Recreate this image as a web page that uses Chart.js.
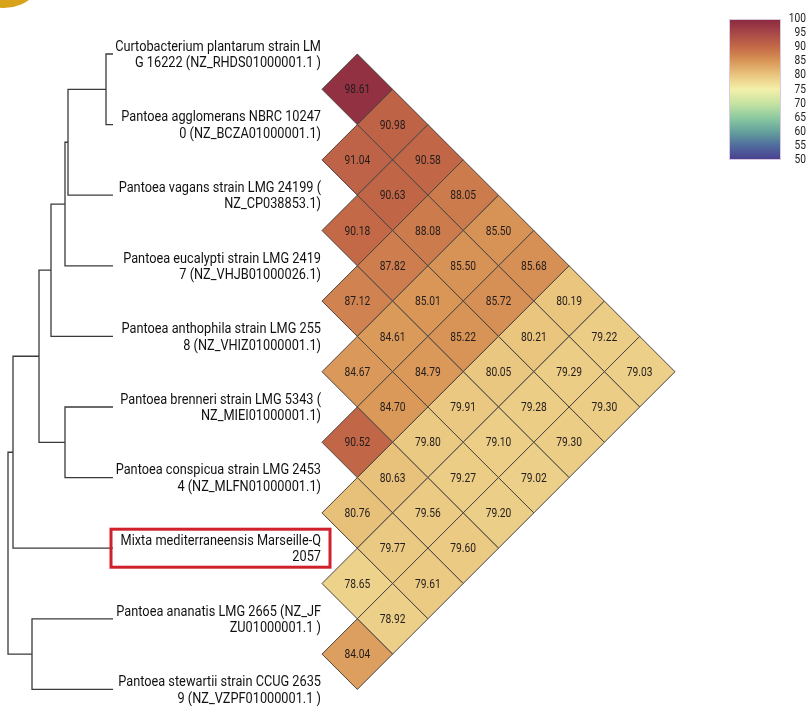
<!DOCTYPE html>
<html>
<head>
<meta charset="utf-8">
<script src="https://cdn.jsdelivr.net/npm/chart.js@4.4.1/dist/chart.umd.min.js"></script>
<style>
  html, body { margin: 0; padding: 0; background: #ffffff; }
  #wrap { width: 808px; height: 706px; }
</style>
</head>
<body>
<div id="wrap"><canvas id="chart" width="808" height="706"></canvas></div>
<script>
// taxa, top to bottom (labels are wrapped on two lines like in the figure)
const taxaLine1 = [
  "Curtobacterium plantarum strain LM",
  "Pantoea agglomerans NBRC 10247",
  "Pantoea vagans strain LMG 24199 (",
  "Pantoea eucalypti strain LMG 2419",
  "Pantoea anthophila strain LMG 255",
  "Pantoea brenneri strain LMG 5343 (",
  "Pantoea conspicua strain LMG 2453",
  "Mixta mediterraneensis Marseille-Q",
  "Pantoea ananatis LMG 2665 (NZ_JF",
  "Pantoea stewartii strain CCUG 2635",
];
const taxaLine2 = [
  "G 16222 (NZ_RHDS01000001.1 )",
  "0 (NZ_BCZA01000001.1)",
  "NZ_CP038853.1)",
  "7 (NZ_VHJB01000026.1)",
  "8 (NZ_VHIZ01000001.1)",
  "NZ_MIEI01000001.1)",
  "4 (NZ_MLFN01000001.1)",
  "2057",
  "ZU01000001.1 )",
  "9 (NZ_VZPF01000001.1 )",
];
const highlightedTaxon = 7;

// upper triangle of the identity matrix, row i = taxon i vs taxa i+1..9
const identityRows = [
  [98.61, 90.98, 90.58, 88.05, 85.50, 85.68, 80.19, 79.22, 79.03],
  [91.04, 90.63, 88.08, 85.50, 85.72, 80.21, 79.29, 79.30],
  [90.18, 87.82, 85.01, 85.22, 80.05, 79.28, 79.30],
  [87.12, 84.61, 84.79, 79.91, 79.10, 79.02],
  [84.67, 84.70, 79.80, 79.27, 79.20],
  [90.52, 80.63, 79.56, 79.60],
  [80.76, 79.77, 79.61],
  [78.65, 78.92],
  [84.04],
];

// dendrogram merges (new nodes numbered from 10 on), heights in tree units
const mergeLeft = [0, 10, 11, 12, 5, 13, 15, 8, 16];
const mergeRight = [1, 2, 3, 4, 6, 14, 7, 9, 17];
const mergeHeight = [7, 45, 48, 62, 48, 74, 100, 81, 105];

// colour key
const keyTicks = [100, 95, 90, 85, 80, 75, 70, 65, 60, 55, 50];
const keyColors = ["#8a2840", "#a84848", "#c46a47", "#d99657", "#eac780", "#f3f0a9",
                   "#c6e3a2", "#8ccaa0", "#65a19c", "#4f6b9e", "#4a3e8e"];

const CELL = 35.3;

const hexToRgb = (h) => [1, 3, 5].map((k) => parseInt(h.slice(k, k + 2), 16));

const valueToColor = (v) => {
  for (let k = 0; k < keyTicks.length - 1; k++) {
    const hi = keyTicks[k], lo = keyTicks[k + 1];
    if (v <= hi && v >= lo) {
      const t = (hi - v) / (hi - lo);
      const a = hexToRgb(keyColors[k]), b = hexToRgb(keyColors[k + 1]);
      const c = a.map((x, n) => Math.round(x + (b[n] - x) * t));
      return `rgb(${c[0]}, ${c[1]}, ${c[2]})`;
    }
  }
  return keyColors[keyColors.length - 1];
};

// cells: x = distance between the two taxa, y = midpoint between their leaves
const cells = [];
identityRows.forEach((row, i) => {
  row.forEach((v, k) => {
    const j = i + k + 1;
    cells.push({ x: j - i, y: i + j, v });
  });
});

// dendrogram as one line with gaps
const nodeY = taxaLine1.map((_, k) => 2 * k);
const nodeH = taxaLine1.map(() => 0);
const treePoints = [];
mergeLeft.forEach((a, m) => {
  const b = mergeRight[m];
  const h = mergeHeight[m];
  treePoints.push(
    { x: nodeH[a], y: nodeY[a] },
    { x: h, y: nodeY[a] },
    { x: h, y: nodeY[b] },
    { x: nodeH[b], y: nodeY[b] },
    { x: null, y: null }
  );
  nodeY.push((nodeY[a] + nodeY[b]) / 2);
  nodeH.push(h);
});

const decorations = {
  id: "decorations",
  afterDatasetsDraw(chart) {
    const { ctx, scales } = chart;
    const xs = scales.x, ys = scales.y;

    // value labels inside the diamonds
    const meta = chart.getDatasetMeta(1);
    ctx.save();
    ctx.fillStyle = "#231c1c";
    ctx.font = "12.5px Roboto";
    ctx.textAlign = "center";
    ctx.textBaseline = "middle";
    meta.data.forEach((el, n) => {
      ctx.save();
      ctx.translate(el.x, el.y + 1);
      ctx.scale(0.82, 1);
      ctx.fillText(cells[n].v.toFixed(2), 0, 0);
      ctx.restore();
    });
    ctx.restore();

    // taxon labels
    const right = xs.getPixelForValue(0) - 1;
    ctx.save();
    ctx.fillStyle = "#111";
    ctx.font = "15px Roboto";
    ctx.textAlign = "right";
    ctx.textBaseline = "middle";
    taxaLine1.forEach((t, k) => {
      const y = ys.getPixelForValue(2 * k);
      ctx.save();
      ctx.translate(right, y);
      ctx.scale(0.85, 1);
      ctx.fillText(t, 0, -7);
      ctx.fillText(taxaLine2[k], 0, 9.5);
      ctx.restore();
    });
    ctx.restore();

    // red box around the new species
    const yh = ys.getPixelForValue(2 * highlightedTaxon);
    ctx.save();
    ctx.strokeStyle = "#d0202a";
    ctx.lineWidth = 3;
    ctx.strokeRect(111, yh - 19, right + 9 - 111, 38);
    ctx.restore();

    // colour key
    const kx = 729, kw = 52, ktop = 19, kh = 141;
    const grad = ctx.createLinearGradient(0, ktop, 0, ktop + kh);
    keyColors.forEach((c, k) => grad.addColorStop(k / (keyColors.length - 1), c));
    ctx.save();
    ctx.fillStyle = grad;
    ctx.fillRect(kx, ktop, kw, kh);
    ctx.strokeStyle = "#d8c8e0";
    ctx.lineWidth = 1;
    ctx.strokeRect(kx + 0.5, ktop + 0.5, kw - 1, kh - 1);
    ctx.fillStyle = "#222";
    ctx.font = "12px Roboto";
    ctx.textAlign = "right";
    ctx.textBaseline = "middle";
    keyTicks.forEach((t) => {
      const y = ktop + ((keyTicks[0] - t) / (keyTicks[0] - keyTicks[keyTicks.length - 1])) * kh;
      ctx.save();
      ctx.translate(806, y);
      ctx.scale(0.85, 1);
      ctx.fillText(String(t), 0, 0);
      ctx.restore();
    });
    ctx.restore();

    // panel badge peeking in at the top-left corner
    ctx.save();
    ctx.fillStyle = "#d9a21b";
    ctx.beginPath();
    ctx.arc(4, -35, 43, 0, Math.PI * 2);
    ctx.fill();
    ctx.restore();
  },
};

new Chart(document.getElementById("chart"), {
  type: "scatter",
  data: {
    datasets: [
      {
        type: "line",
        data: treePoints,
        xAxisID: "xd",
        yAxisID: "y",
        borderColor: "#3a3a3a",
        borderWidth: 1.3,
        pointRadius: 0,
        spanGaps: false,
        fill: false,
        tension: 0,
      },
      {
        data: cells,
        xAxisID: "x",
        yAxisID: "y",
        pointStyle: "rectRot",
        pointRadius: (c) => {
          const s = c.chart.scales.x;
          return s.getPixelForValue(1) - s.getPixelForValue(0);
        },
        pointBackgroundColor: (c) => (c.raw ? valueToColor(c.raw.v) : "#fff"),
        pointBorderColor: "#4a4440",
        pointBorderWidth: 1,
      },
    ],
  },
  options: {
    responsive: false,
    animation: false,
    devicePixelRatio: 1,
    layout: { padding: 0 },
    plugins: { legend: { display: false }, tooltip: { enabled: false } },
    scales: {
      x: { type: "linear", display: false, min: -322 / CELL, max: 486 / CELL },
      y: { type: "linear", display: false, reverse: true, min: -54 / CELL, max: 652 / CELL },
      xd: { type: "linear", axis: "x", display: false, reverse: true, min: -695, max: 113 },
    },
  },
  plugins: [decorations],
});
</script>
</body>
</html>
